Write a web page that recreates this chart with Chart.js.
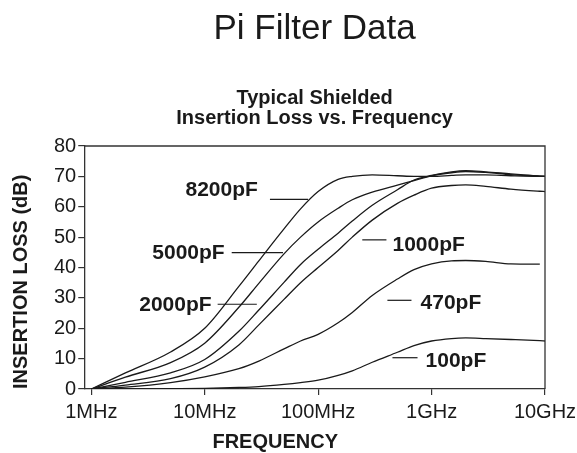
<!DOCTYPE html>
<html>
<head>
<meta charset="utf-8">
<title>Pi Filter Data</title>
<script src="https://cdn.jsdelivr.net/npm/chart.js@4.4.1/dist/chart.umd.min.js"></script>
<style>
  html, body { margin: 0; padding: 0; background: #fff; }
</style>
</head>
<body>
<canvas id="piChart" width="577" height="453"></canvas>
<script>
// frequency points (MHz) shared by all curves
const freqs    = [1, 2, 5, 10, 20, 30, 50, 70, 100, 150, 200, 300, 500, 700, 1000, 1500, 2000, 3000, 5000, 9000, 10000];
// insertion loss (dB)
const loss8200 = [0, 5.3, 12.2, 20, 33.8, 42.2, 52.7, 59.3, 65, 69, 70, 70.5, 70.2, 70, 70, 70.3, 70.5, 70.5, 70.2, 70, 70];
const loss5000 = [0, 3.9, 8.7, 15.1, 26.9, 34.8, 44.5, 50, 55, 59.5, 62.3, 64.8, 67.1, 68.6, 70.2, 71.2, 71.6, 71.3, 70.6, 70.1, 70];
const loss2000 = [0, 2.2, 5.3, 9.7, 19, 26, 35.1, 41, 46, 51.3, 55.3, 60.5, 65.6, 68.8, 70.3, 71.5, 71.9, 71.5, 70.8, 70.1, 70];
const loss1000 = [0, 1.3, 3.4, 7.2, 14.5, 21.1, 29.5, 35, 40, 45.6, 50, 55.6, 61.1, 63.8, 66.1, 67, 67.2, 66.7, 65.8, 65.1, 65];
const loss470  = [0, 0.6, 2.1, 4, 6.7, 9.2, 13.2, 15.8, 18, 21.8, 25.2, 30.8, 36.2, 39.3, 41.2, 42.2, 42.3, 42, 41.2, 41.1, null];
const loss100  = [0, 0, 0.1, 0.2, 0.5, 0.8, 1.5, 2.1, 2.9, 4.5, 6, 8.8, 12.1, 14.3, 15.8, 16.6, 16.8, 16.6, 16.3, 15.9, 15.8];

const xTickVals   = [1, 10, 100, 1000, 10000];
const xTickLabels = ['1MHz', '10MHz', '100MHz', '1GHz', '10GHz'];

// curve labels: text, text anchor (MHz, dB), leader line (MHz from, MHz to, dB)
const capNames  = ['8200pF', '5000pF', '2000pF', '1000pF', '470pF', '100pF'];
const capTextF  = [29.4, 15.0, 11.5, 452, 800, 885];
const capTextDb = [65.4, 44.6, 27.6, 47.5, 28.2, 9.0];
const capSide   = ['right', 'right', 'right', 'left', 'left', 'left'];
const leadFrom  = [37.6, 17.3, 13.0, 245, 408, 452];
const leadTo    = [81.6, 49.0, 28.8, 400, 665, 752];
const leadDb    = [62.4, 44.9, 27.9, 49.1, 29.2, 10.3];

const FONT = "'Liberation Sans', Arial, Helvetica, sans-serif";
const INK = '#1a1a1a';

function toPoints(arr) {
    return freqs.map((f, i) => ({ x: f, y: arr[i] })).filter(p => p.y !== null);
}

const seriesList = [loss8200, loss5000, loss2000, loss1000, loss470, loss100];

// frame + curve labels
const labelPlugin = {
    id: 'capLabels',
    afterDatasetsDraw(chart) {
        const ctx = chart.ctx;
        const a = chart.chartArea;
        const xs = chart.scales.x, ys = chart.scales.y;
        ctx.save();
        ctx.strokeStyle = '#333';
        ctx.lineWidth = 1.3;
        ctx.beginPath();
        ctx.moveTo(a.left, a.top);
        ctx.lineTo(a.right, a.top);
        ctx.lineTo(a.right, a.bottom);
        ctx.stroke();

        ctx.strokeStyle = INK;
        ctx.lineWidth = 1.2;
        ctx.fillStyle = INK;
        ctx.font = 'bold 21px ' + FONT;
        ctx.textBaseline = 'middle';
        capNames.forEach((name, i) => {
            const ly = ys.getPixelForValue(leadDb[i]);
            ctx.beginPath();
            ctx.moveTo(xs.getPixelForValue(leadFrom[i]), ly);
            ctx.lineTo(xs.getPixelForValue(leadTo[i]), ly);
            ctx.stroke();
            ctx.textAlign = capSide[i];
            ctx.fillText(name, xs.getPixelForValue(capTextF[i]), ys.getPixelForValue(capTextDb[i]));
        });

        // x axis title sits left of centre in the original
        ctx.font = 'bold 20px ' + FONT;
        ctx.textAlign = 'center';
        ctx.fillText('FREQUENCY', a.left + 191, 442);
        ctx.restore();
    }
};

const ctx = document.getElementById('piChart').getContext('2d');
const piChart = new Chart(ctx, {
    type: 'line',
    data: {
        datasets: seriesList.map((arr, i) => ({
            label: capNames[i],
            data: toPoints(arr),
            borderColor: INK,
            borderWidth: 1.3,
            pointRadius: 0,
            fill: false,
            cubicInterpolationMode: 'monotone'
        }))
    },
    options: {
        responsive: false,
        animation: false,
        devicePixelRatio: 1,
        layout: { padding: { left: 0, right: 0, top: 0, bottom: 0 } },
        plugins: {
            legend: { display: false },
            tooltip: { enabled: false },
            title: {
                display: true,
                text: 'Pi Filter Data',
                fullSize: false,
                color: INK,
                font: { family: FONT, size: 35, weight: 'normal', lineHeight: 1.2 },
                padding: { top: 8, bottom: 38 }
            },
            subtitle: {
                display: true,
                text: ['Typical Shielded', 'Insertion Loss vs. Frequency'],
                fullSize: false,
                color: INK,
                font: { family: FONT, size: 20, weight: 'bold', lineHeight: 1.0 },
                padding: { top: 0, bottom: 18 }
            }
        },
        scales: {
            x: {
                type: 'logarithmic',
                min: 0.867,
                max: 10000,
                afterBuildTicks: (scale) => {
                    scale.ticks = xTickVals.map(v => ({ value: v }));
                },
                // let the last label run close to the canvas edge, as in the original
                afterFit: (scale) => {
                    scale.paddingRight = 32;
                },
                ticks: {
                    color: INK,
                    font: { family: FONT, size: 20 },
                    padding: 5,
                    maxRotation: 0,
                    autoSkip: false,
                    callback: (value) => xTickLabels[xTickVals.indexOf(value)]
                },
                grid: { drawOnChartArea: false, drawTicks: true, tickLength: 6, color: '#333', lineWidth: 1.2 },
                border: { display: true, color: '#333', width: 1.3 },
                title: {
                    display: true,
                    text: ' ',
                    font: { family: FONT, size: 20, weight: 'bold', lineHeight: 1.0 },
                    padding: { top: 4, bottom: 0 }
                }
            },
            y: {
                min: 0,
                max: 80,
                ticks: {
                    stepSize: 10,
                    color: INK,
                    font: { family: FONT, size: 20 },
                    padding: 2
                },
                grid: { drawOnChartArea: false, drawTicks: true, tickLength: 6, color: '#333', lineWidth: 1.2 },
                border: { display: true, color: '#333', width: 1.3 },
                title: {
                    display: true,
                    text: 'INSERTION LOSS (dB)',
                    align: 'start',
                    color: INK,
                    font: { family: FONT, size: 20, weight: 'bold', lineHeight: 1.2 },
                    padding: { top: 9, bottom: 19 }
                }
            }
        }
    },
    plugins: [labelPlugin]
});
</script>
</body>
</html>
